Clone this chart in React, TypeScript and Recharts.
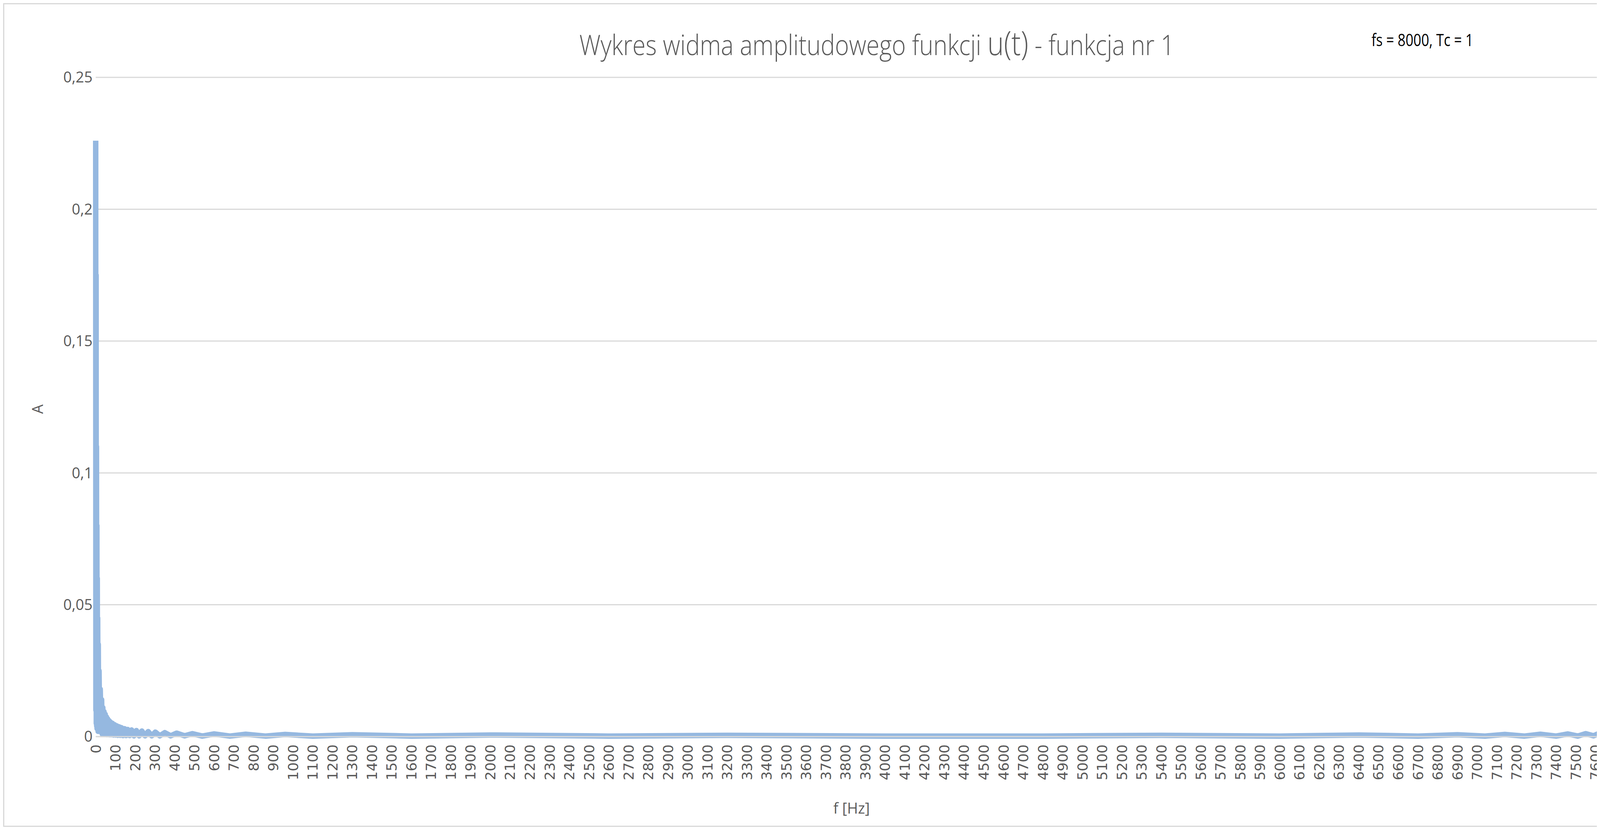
import React from "react";
import { LineChart, Line, XAxis, YAxis, CartesianGrid } from "recharts";

const leftFreqs = [0,1,2,3,4,5,6,7,8,9,10,12,13,15,17,20,23,27,30,33,36,39,42,45,48,51,54,57,60,64,68,72,76,80,85,90,95,100,106,112,118,124,130,138,146,154,162,172,182,194,206,220,234,250,266,284,302,325,350,380,410,450,490,540,600,680,760,860,960,1100,1300,1600,2000,2600,3200,4000];
const leftAmps = [0.226,0.01,0.175,0.005,0.11,0.004,0.08,0.003,0.06,0.003,0.045,0.002,0.035,0.002,0.025,0.002,0.018,0.002,0.014,0.001,0.011,0.001,0.0095,0.001,0.0085,0.001,0.0075,0.0008,0.0068,0.0008,0.006,0.0007,0.0054,0.0007,0.005,0.0006,0.0045,0.0006,0.0041,0.0005,0.0037,0.0005,0.0034,0.0004,0.003,0.0004,0.0027,0.0004,0.0025,0.0003,0.0023,0.0003,0.0021,0.0003,0.0019,0.0003,0.0017,0.0003,0.0015,0.0003,0.0013,0.0003,0.0011,0.0002,0.001,0.0002,0.0009,0.0002,0.0008,0.0002,0.0007,0.0002,0.0006,0.0002,0.0005,0.0002];
const rightFreqs = [4800,5400,6000,6400,6700,6900,7040,7140,7240,7320,7400,7460,7510,7550,7590,7620,7650,7675,7698,7716,7734,7750,7766,7780,7794,7806,7818,7828,7838,7846,7854,7862,7870,7876,7882,7888,7894,7900,7905,7910,7915,7920,7924,7928,7932,7936,7940,7943,7946,7949,7952,7955,7958,7961,7964,7967,7970,7973,7977,7980,7983,7985,7987,7988,7989,7990,7991,7992,7993,7994,7995,7996,7997,7998,7999];
const rightAmps = [0.0002,0.0005,0.0002,0.0006,0.0002,0.0007,0.0002,0.0008,0.0002,0.0009,0.0002,0.001,0.0002,0.0011,0.0003,0.0013,0.0003,0.0015,0.0003,0.0017,0.0003,0.0019,0.0003,0.0021,0.0003,0.0023,0.0003,0.0025,0.0004,0.0027,0.0004,0.003,0.0004,0.0034,0.0005,0.0037,0.0005,0.0041,0.0006,0.0045,0.0006,0.005,0.0007,0.0054,0.0007,0.006,0.0008,0.0068,0.0008,0.0075,0.001,0.0085,0.001,0.0095,0.001,0.011,0.001,0.014,0.018,0.002,0.025,0.002,0.035,0.003,0.045,0.003,0.06,0.004,0.08,0.005,0.11,0.006,0.175,0.01,0.226];
const xTicks = [0,100,200,300,400,500,600,700,800,900,1000,1100,1200,1300,1400,1500,1600,1700,1800,1900,2000,2100,2200,2300,2400,2500,2600,2700,2800,2900,3000,3100,3200,3300,3400,3500,3600,3700,3800,3900,4000,4100,4200,4300,4400,4500,4600,4700,4800,4900,5000,5100,5200,5300,5400,5500,5600,5700,5800,5900,6000,6100,6200,6300,6400,6500,6600,6700,6800,6900,7000,7100,7200,7300,7400,7500,7600,7700,7800,7900];
const yTicks = [0, 0.05, 0.1, 0.15, 0.2, 0.25];

const data = [
  ...leftFreqs.map((f, i) => ({ f, a: leftAmps[i] })),
  ...rightFreqs.map((f, i) => ({ f, a: rightAmps[i] })),
];

const XTick = (props: any) => {
  const { x, y, payload } = props;
  return (
    <text x={x} y={y + 12} transform={`rotate(-90 ${x} ${y + 12})`} textAnchor="end" dominantBaseline="central"
      fill="#595959" fontSize={36} fontFamily="DejaVu Sans">{payload.value}</text>
  );
};

export default function App() {
  return (
    <div style={{ position: "relative", width: 4338, height: 2102, border: "3px solid #d9d9d9", background: "#fff", fontFamily: "Open Sans" }}>
      <div style={{ position: "absolute", left: 390, width: 4338, top: 40, textAlign: "center", fontSize: 72, color: "#595959", fontFamily: "Open Sans", fontWeight: 300, transform: "scaleX(0.85)", transformOrigin: "left" }}>
        Wykres widma amplitudowego funkcji <span style={{ fontSize: 84 }}>u(t)</span> - funkcja nr 1
      </div>
      <div style={{ position: "absolute", left: 3500, top: 60, fontSize: 44, color: "#000", fontFamily: "Open Sans", transform: "scaleX(0.8)", transformOrigin: "left" }}>
        fs = 8000, Tc = 1
      </div>
      <div style={{ position: "absolute", left: 72, top: 1010, fontSize: 38, color: "#595959", transform: "rotate(-90deg)" }}>A</div>
      <div style={{ position: "absolute", left: 0, width: 4338, top: 2030, textAlign: "center", fontSize: 38, color: "#595959" }}>f [Hz]</div>
      <LineChart width={4338} height={2102} data={data} margin={{ top: 187, right: 42, bottom: 0, left: 114 }}>
        <CartesianGrid vertical={false} stroke="#d9d9d9" strokeWidth={3} />
        <XAxis dataKey="f" type="number" domain={[0, 8040]} ticks={xTicks} interval={0} tick={<XTick />}
          axisLine={{ stroke: "#d9d9d9", strokeWidth: 3 }} tickLine={false} height={228} />
        <YAxis type="number" domain={[0, 0.25]} ticks={yTicks} width={120} axisLine={false} tickLine={false}
          tickFormatter={(v: number) => String(v).replace(".", ",")}
          tick={{ fill: "#595959", fontSize: 38, fontFamily: "Open Sans" }} />
        <Line dataKey="a" stroke="#95b8e0" strokeWidth={14} dot={false} isAnimationActive={false} strokeLinejoin="round" />
      </LineChart>
    </div>
  );
}
